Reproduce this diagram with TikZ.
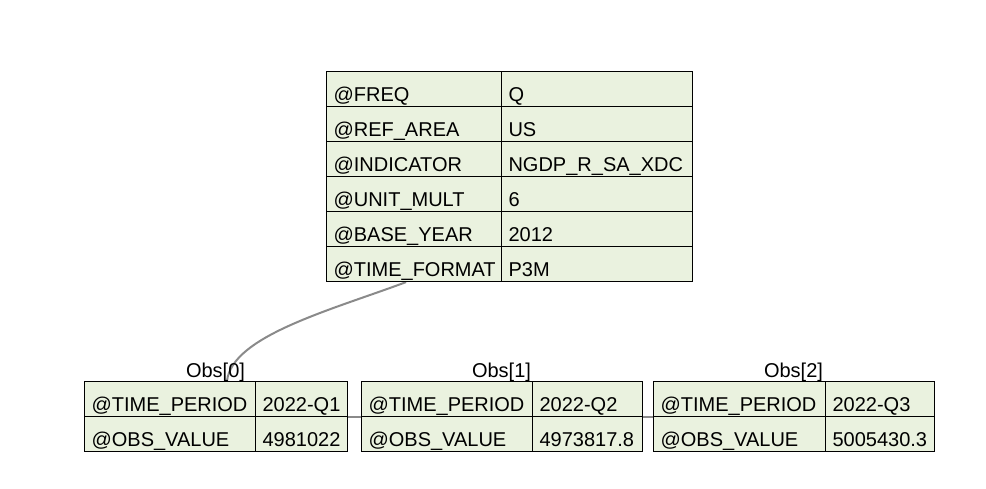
\documentclass[tikz,border=0pt]{standalone}
\usepackage{fontspec}
\setmainfont{Liberation Sans}
\usetikzlibrary{backgrounds}
\definecolor{cellgreen}{HTML}{EAF2DF}
\definecolor{edgegray}{HTML}{8A8A8A}
\tikzset{
  cell/.style={draw=black, line width=1.1pt, fill=cellgreen, anchor=north west,
    inner xsep=7pt, inner ysep=0pt, text height=30pt, text depth=5pt,
    align=left, font=\fontsize{20}{22}\selectfont},
  obslabel/.style={anchor=base, inner sep=0pt, font=\fontsize{20}{22}\selectfont},
  link/.style={draw=edgegray, line width=2pt}
}
\newcommand{\mycell}[5]{\node[cell, text width=#4pt-14pt] (#1) at (#2,#3) {#5};}
\begin{document}
\begin{tikzpicture}[x=1pt,y=-1pt]
\useasboundingbox (0,0) rectangle (986,488);
% top table
\mycell{k1}{326}{71}{175}{@FREQ}
\mycell{v1}{501}{71}{191}{Q}
\mycell{k2}{326}{106}{175}{@REF\_AREA}
\mycell{v2}{501}{106}{191}{US}
\mycell{k3}{326}{141}{175}{@INDICATOR}
\mycell{v3}{501}{141}{191}{NGDP\_R\_SA\_XDC}
\mycell{k4}{326}{176}{175}{@UNIT\_MULT}
\mycell{v4}{501}{176}{191}{6}
\mycell{k5}{326}{211}{175}{@BASE\_YEAR}
\mycell{v5}{501}{211}{191}{2012}
\mycell{k6}{326}{246}{175}{@TIME\_FORMAT}
\mycell{v6}{501}{246}{191}{P3M}
% Obs[0]
\mycell{aka}{84}{381}{171}{@TIME\_PERIOD}
\mycell{ava}{255}{381}{92}{2022-Q1}
\mycell{akb}{84}{416}{171}{@OBS\_VALUE}
\mycell{avb}{255}{416}{92}{4981022}
\node[obslabel] (la) at (215.5,377) {Obs[0]};
% Obs[1]
\mycell{bka}{361}{381}{171}{@TIME\_PERIOD}
\mycell{bva}{532}{381}{110}{2022-Q2}
\mycell{bkb}{361}{416}{171}{@OBS\_VALUE}
\mycell{bvb}{532}{416}{110}{4973817.8}
\node[obslabel] (lb) at (501.5,377) {Obs[1]};
% Obs[2]
\mycell{cka}{653}{381}{172}{@TIME\_PERIOD}
\mycell{cva}{825}{381}{109}{2022-Q3}
\mycell{ckb}{653}{416}{172}{@OBS\_VALUE}
\mycell{cvb}{825}{416}{109}{5005430.3}
\node[obslabel] (lc) at (793.5,377) {Obs[2]};
% connectors
\begin{pgfonlayer}{background}
\draw[link] ([xshift=-8pt]k6.south) .. controls ++(-75,28) and ++(5,-45) .. ([xshift=-28pt]ava.north west);
\draw[link] (ava.south east) -- (bka.south west);
\draw[link] (bva.south east) -- (cka.south west);
\end{pgfonlayer}
\end{tikzpicture}
\end{document}
